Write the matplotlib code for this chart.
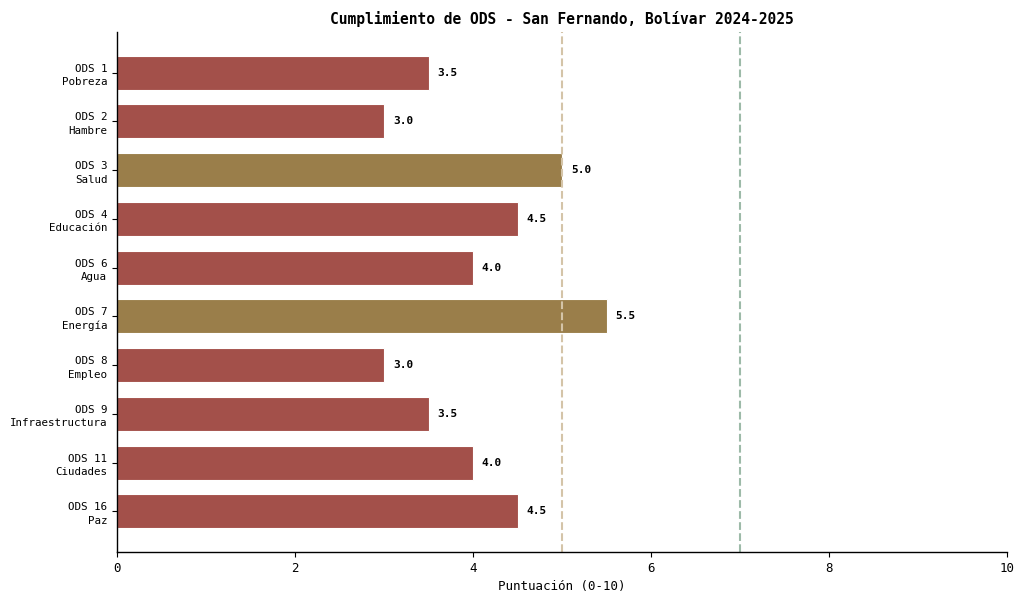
import matplotlib
matplotlib.use("Agg")
import matplotlib.pyplot as plt

categories = ["ODS 1\nPobreza", "ODS 2\nHambre", "ODS 3\nSalud", "ODS 4\nEducación",
              "ODS 6\nAgua", "ODS 7\nEnergía", "ODS 8\nEmpleo", "ODS 9\nInfraestructura",
              "ODS 11\nCiudades", "ODS 16\nPaz"]
scores = [3.5, 3.0, 5.0, 4.5, 4.0, 5.5, 3.0, 3.5, 4.0, 4.5]
ref_lines = [5, 7]

RED = "#A3504A"
GOLD = "#9A7E4A"
colors = [GOLD if s >= 5 else RED for s in scores]

plt.rcParams['font.family'] = ['DejaVu Sans Mono']
fig = plt.figure(figsize=(10.24, 6.09), dpi=100)
ax = fig.add_axes([117/1024, 1 - 552/609, (1007-117)/1024, (552-32)/609])

y = list(range(len(categories)))
ax.barh(y, scores, height=0.7, color=colors, edgecolor="white", linewidth=0.8)
ax.invert_yaxis()
ax.set_yticks(y)
ax.set_yticklabels(categories, fontsize=7.8, linespacing=1.45)
ax.set_xlim(0, 10)
ax.set_xticks([0, 2, 4, 6, 8, 10])
ax.tick_params(axis='x', labelsize=9)
ax.axvline(ref_lines[0], color="#D4C4A8", linestyle="--", linewidth=1.5)
ax.axvline(ref_lines[1], color="#9DBAA8", linestyle="--", linewidth=1.5)
for yi, s in zip(y, scores):
    ax.text(s + 0.1, yi, f"{s:.1f}", va="center", ha="left", fontsize=8, fontweight="bold")
ax.spines['top'].set_visible(False)
ax.spines['right'].set_visible(False)
ax.spines['left'].set_linewidth(1.0)
ax.spines['bottom'].set_linewidth(1.0)
ax.set_xlabel("Puntuación (0-10)", fontsize=9)
ax.set_title("Cumplimiento de ODS - San Fernando, Bolívar 2024-2025", fontsize=10.5, fontweight="bold")
fig.savefig("out.png", dpi=100)
